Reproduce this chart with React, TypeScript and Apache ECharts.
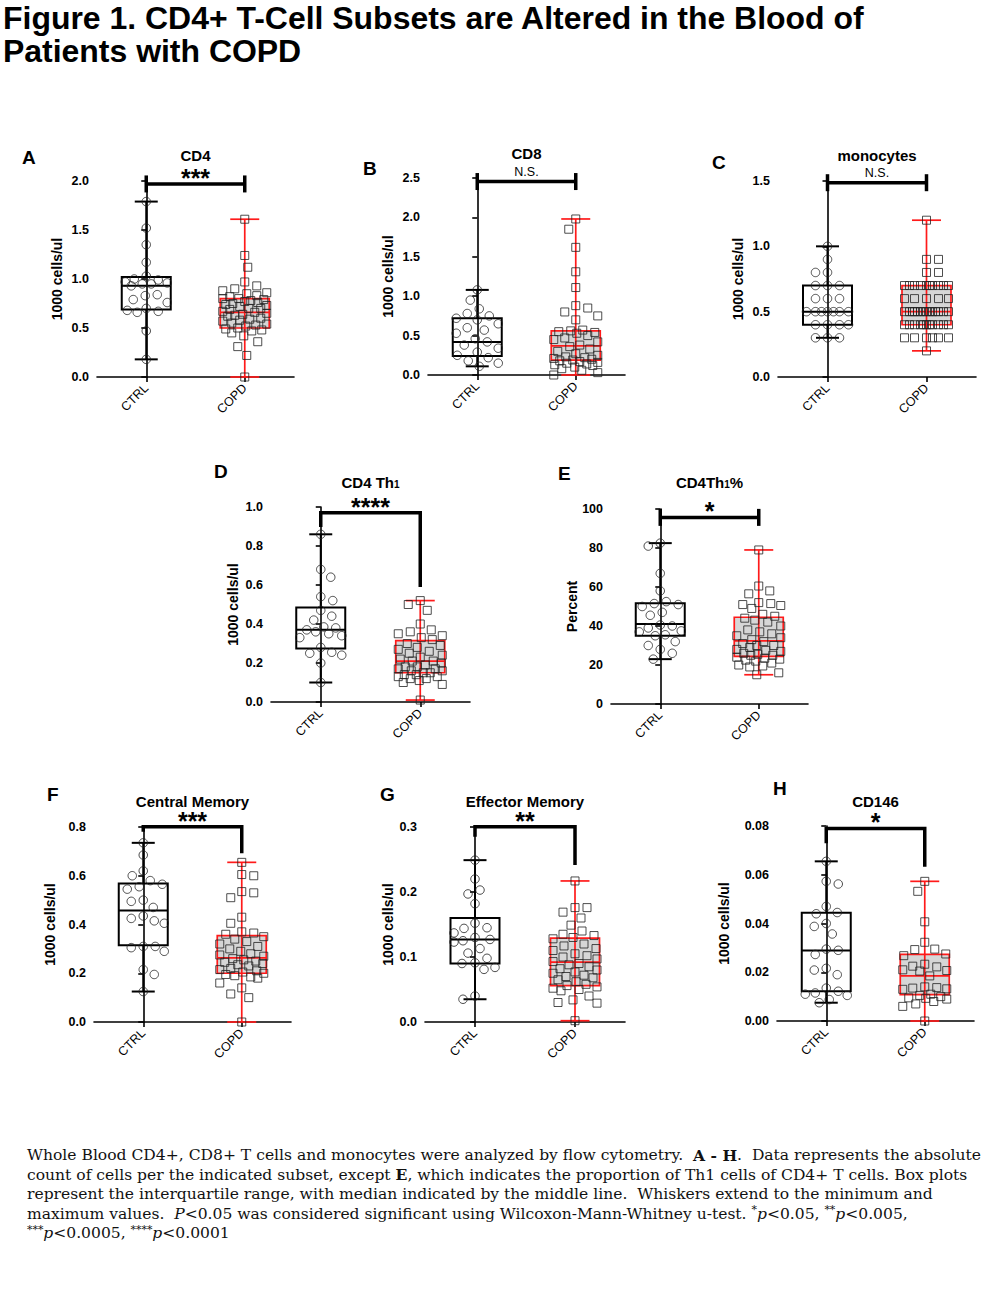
import React, { useEffect, useRef } from "react";
import * as echarts from "echarts";

// ---------------- DATA ----------------
const categories = ["CTRL", "COPD"];

// A — CD4
const cd4Ctrl = [1.79, 1.52, 1.35, 1.17, 1.03, 1.0, 0.99, 0.97, 0.96, 0.95, 0.95, 0.93, 0.84, 0.83, 0.79, 0.76, 0.7, 0.68, 0.67, 0.66, 0.47, 0.18];
const cd4Copd = [1.61, 1.24, 1.12, 0.97, 0.93, 0.9, 0.88, 0.86, 0.85, 0.83, 0.82, 0.8, 0.8, 0.79, 0.78, 0.77, 0.76, 0.75, 0.74, 0.73, 0.72, 0.7, 0.7, 0.69, 0.67, 0.66, 0.65, 0.64, 0.63, 0.62, 0.6, 0.59, 0.58, 0.57, 0.55, 0.54, 0.53, 0.52, 0.5, 0.49, 0.48, 0.47, 0.45, 0.42, 0.36, 0.31, 0.22, 0.0];
const cd4CtrlBox = [0.18, 0.69, 0.93, 1.02, 1.79]; // min, q1, median, q3, max
const cd4CopdBox = [0.0, 0.5, 0.66, 0.8, 1.61];

// B — CD8
const cd8Ctrl = [1.08, 0.95, 0.84, 0.78, 0.75, 0.72, 0.7, 0.65, 0.6, 0.57, 0.53, 0.46, 0.42, 0.38, 0.34, 0.29, 0.25, 0.22, 0.18, 0.15, 0.11];
const cd8Copd = [1.98, 1.85, 1.62, 1.31, 1.11, 0.88, 0.85, 0.8, 0.75, 0.7, 0.57, 0.56, 0.55, 0.54, 0.53, 0.5, 0.47, 0.45, 0.42, 0.38, 0.36, 0.33, 0.3, 0.27, 0.25, 0.23, 0.22, 0.21, 0.2, 0.19, 0.18, 0.17, 0.16, 0.15, 0.14, 0.13, 0.12, 0.1, 0.08, 0.06, 0.03, 0.0];
const cd8CtrlBox = [0.11, 0.24, 0.42, 0.72, 1.08];
const cd8CopdBox = [0.0, 0.19, 0.37, 0.56, 1.98];

// C — monocytes
const monoCtrl = [1.0, 0.9, 0.8, 0.8, 0.7, 0.7, 0.7, 0.6, 0.6, 0.6, 0.5, 0.5, 0.5, 0.5, 0.5, 0.5, 0.5, 0.4, 0.4, 0.4, 0.4, 0.3, 0.3, 0.3];
const monoCopd = [1.2, 0.9, 0.9, 0.8, 0.8, 0.7, 0.7, 0.7, 0.7, 0.7, 0.7, 0.7, 0.7, 0.7, 0.7, 0.6, 0.6, 0.6, 0.6, 0.6, 0.5, 0.5, 0.5, 0.5, 0.5, 0.5, 0.5, 0.5, 0.5, 0.5, 0.5, 0.5, 0.5, 0.5, 0.4, 0.4, 0.4, 0.4, 0.4, 0.4, 0.4, 0.4, 0.4, 0.4, 0.4, 0.3, 0.3, 0.3, 0.3, 0.3, 0.3, 0.2];
const monoCtrlBox = [0.3, 0.4, 0.5, 0.7, 1.0];
const monoCopdBox = [0.2, 0.4, 0.5, 0.7, 1.2];

// D — CD4 Th1
const th1Ctrl = [0.86, 0.68, 0.64, 0.54, 0.52, 0.47, 0.44, 0.42, 0.385, 0.38, 0.37, 0.36, 0.35, 0.34, 0.33, 0.28, 0.255, 0.25, 0.24, 0.2, 0.1];
const th1Copd = [0.52, 0.5, 0.47, 0.4, 0.37, 0.36, 0.35, 0.34, 0.33, 0.32, 0.3, 0.29, 0.28, 0.27, 0.26, 0.25, 0.24, 0.23, 0.22, 0.21, 0.21, 0.2, 0.19, 0.18, 0.18, 0.17, 0.17, 0.16, 0.16, 0.15, 0.15, 0.14, 0.14, 0.13, 0.13, 0.12, 0.12, 0.11, 0.1, 0.09, 0.01];
const th1CtrlBox = [0.1, 0.275, 0.37, 0.485, 0.86];
const th1CopdBox = [0.01, 0.15, 0.21, 0.315, 0.52];

// E — CD4Th1 %
const th1PctCtrl = [82.5, 81, 67, 58, 52.5, 51.5, 51, 50, 47, 45.5, 40.5, 40, 39, 37.5, 37, 35.5, 35, 32, 30, 28, 26, 23];
const th1PctCopd = [79, 60.5, 58, 56.5, 52, 51.5, 51, 50.5, 49, 46, 45, 44, 43, 42, 40, 38, 37, 36, 35, 34, 33, 32, 31, 30, 30, 29, 28, 27.5, 27, 26, 25.5, 25, 25, 24, 23.5, 23, 22.5, 22, 21, 20, 19.5, 19, 16, 15];
const th1PctCtrlBox = [23, 35, 41, 51.7, 82.5];
const th1PctCopdBox = [15, 24.4, 32.4, 44.5, 79];

// F — Central Memory
const cmCtrl = [0.735, 0.685, 0.62, 0.6, 0.58, 0.565, 0.555, 0.545, 0.5, 0.495, 0.47, 0.435, 0.425, 0.415, 0.405, 0.31, 0.31, 0.305, 0.29, 0.215, 0.195, 0.125];
const cmCopd = [0.655, 0.605, 0.6, 0.535, 0.53, 0.51, 0.43, 0.405, 0.37, 0.365, 0.36, 0.35, 0.34, 0.33, 0.32, 0.31, 0.3, 0.29, 0.28, 0.275, 0.27, 0.26, 0.255, 0.25, 0.245, 0.24, 0.235, 0.23, 0.22, 0.215, 0.21, 0.205, 0.2, 0.195, 0.19, 0.185, 0.18, 0.16, 0.14, 0.115, 0.1, 0.0];
const cmCtrlBox = [0.125, 0.315, 0.457, 0.568, 0.735];
const cmCopdBox = [0.0, 0.2, 0.263, 0.354, 0.655];

// G — Effector Memory
const emCtrl = [0.249, 0.22, 0.203, 0.197, 0.182, 0.152, 0.145, 0.144, 0.137, 0.13, 0.127, 0.125, 0.123, 0.113, 0.106, 0.098, 0.091, 0.09, 0.084, 0.081, 0.04, 0.035];
const emCopd = [0.217, 0.176, 0.176, 0.169, 0.16, 0.149, 0.14, 0.135, 0.133, 0.13, 0.128, 0.12, 0.117, 0.113, 0.11, 0.105, 0.102, 0.1, 0.097, 0.093, 0.09, 0.088, 0.085, 0.082, 0.08, 0.077, 0.075, 0.072, 0.07, 0.068, 0.065, 0.062, 0.058, 0.056, 0.054, 0.052, 0.05, 0.048, 0.04, 0.034, 0.03, 0.029, 0.002];
const emCtrlBox = [0.035, 0.09, 0.127, 0.16, 0.249];
const emCopdBox = [0.002, 0.056, 0.092, 0.129, 0.217];

// H — CD146
const cd146Ctrl = [0.0655, 0.0573, 0.0562, 0.047, 0.0445, 0.044, 0.04, 0.0388, 0.0357, 0.0295, 0.029, 0.0273, 0.0216, 0.0209, 0.019, 0.0135, 0.0122, 0.0115, 0.011, 0.0105, 0.0088, 0.0075];
const cd146Copd = [0.0573, 0.0532, 0.0407, 0.0323, 0.0295, 0.0293, 0.0275, 0.0268, 0.0233, 0.0225, 0.0222, 0.021, 0.0207, 0.0205, 0.0185, 0.014, 0.0137, 0.0135, 0.0132, 0.013, 0.011, 0.0105, 0.01, 0.0095, 0.0093, 0.009, 0.008, 0.007, 0.006, 0.0];
const cd146CtrlBox = [0.0075, 0.0122, 0.0289, 0.0444, 0.0655];
const cd146CopdBox = [0.0, 0.0108, 0.0185, 0.0273, 0.0573];

// significance brackets: [bar level, left leg end, right leg end] (null = T-capped bar)
const bracketA = [1.97, null, null];
const bracketB = [2.455, null, null];
const bracketC = [1.487, null, null];
const bracketD = [0.971, 0.897, 0.59];
const bracketE = [95.7, null, null];
const bracketF = [0.801, 0.781, 0.692];
const bracketG = [0.3005, 0.285, 0.2415];
const bracketH = [0.079, 0.0729, 0.0633];

const yMaxes = [2.0, 2.5, 1.5, 1.0, 100, 0.8, 0.3, 0.08];
const ySteps = [0.5, 0.5, 0.5, 0.2, 20, 0.2, 0.1, 0.02];
const yDecimals = [1, 1, 1, 1, 0, 1, 1, 2];
const letters = ["A", "B", "C", "D", "E", "F", "G", "H"];
const titles = ["CD4", "CD8", "monocytes", "CD4 Th{sub|1}", "CD4Th{sub|1}%", "Central Memory", "Effector Memory", "CD146"];
const yNames = ["1000 cells/ul", "1000 cells/ul", "1000 cells/ul", "1000 cells/ul", "Percent", "1000 cells/ul", "1000 cells/ul", "1000 cells/ul"];
const sigLabels = ["***", "N.S.", "N.S.", "****", "*", "***", "**", "*"];

const figureTitle = ["Figure 1. CD4+ T-Cell Subsets are Altered in the Blood of", "Patients with COPD"];
const captionLines = [
  "Whole Blood CD4+, CD8+ T cells and monocytes were analyzed by flow cytometry.  {b|A - H}.  Data represents the absolute",
  "count of cells per the indicated subset, except {b|E}, which indicates the proportion of Th1 cells of CD4+ T cells. Box plots",
  "represent the interquartile range, with median indicated by the middle line.  Whiskers extend to the minimum and",
  "maximum values.  {i|P}<0.05 was considered significant using Wilcoxon-Mann-Whitney u-test. {s|*}{i|p}<0.05, {s|**}{i|p}<0.005,",
  "{s|***}{i|p}<0.0005, {s|****}{i|p}<0.0001",
];

const ctrlSets = [cd4Ctrl, cd8Ctrl, monoCtrl, th1Ctrl, th1PctCtrl, cmCtrl, emCtrl, cd146Ctrl];
const copdSets = [cd4Copd, cd8Copd, monoCopd, th1Copd, th1PctCopd, cmCopd, emCopd, cd146Copd];
const ctrlBoxes = [cd4CtrlBox, cd8CtrlBox, monoCtrlBox, th1CtrlBox, th1PctCtrlBox, cmCtrlBox, emCtrlBox, cd146CtrlBox];
const copdBoxes = [cd4CopdBox, cd8CopdBox, monoCopdBox, th1CopdBox, th1PctCopdBox, cmCopdBox, emCopdBox, cd146CopdBox];
const brackets = [bracketA, bracketB, bracketC, bracketD, bracketE, bracketF, bracketG, bracketH];

// ---------------- LAYOUT ----------------
const layouts = [
  { left: 97, top: 181, width: 197, height: 196, lx: 22, ly: 157, ty: 155, nx: 57 },
  { left: 428, top: 178, width: 197, height: 197, lx: 363, ly: 168, ty: 153, nx: 388 },
  { left: 778, top: 181, width: 198, height: 196, lx: 712, ly: 162, ty: 155, nx: 738 },
  { left: 271, top: 507, width: 199, height: 195, lx: 214, ly: 471, ty: 482, nx: 233 },
  { left: 611, top: 509, width: 197, height: 195, lx: 558, ly: 473, ty: 482, nx: 572 },
  { left: 94, top: 827, width: 197, height: 195, lx: 47, ly: 794, ty: 801, nx: 50 },
  { left: 425, top: 827, width: 200, height: 195, lx: 380, ly: 794, ty: 801, nx: 388 },
  { left: 777, top: 826, width: 197, height: 195, lx: 773, ly: 788, ty: 801, nx: 724 },
];

const SANS = '"Liberation Sans", Arial, Helvetica, sans-serif';
const NARROW = '"Liberation Sans Narrow", "Arial Narrow", "Liberation Sans", Arial, sans-serif';
const SERIF = '"DejaVu Serif", "Liberation Serif", serif';
const RED = "#ff1a1a";

function measure(text: string, font: string): number {
  const c = document.createElement("canvas");
  const ctx = c.getContext("2d");
  if (!ctx) return 0;
  ctx.font = font;
  return ctx.measureText(text).width;
}

function swarm(values: number[], pxPerUnit: number, diam: number, maxHalf: number): number[] {
  const order = values.map((_, i) => i).sort((a, b) => values[b] - values[a]);
  const placed: [number, number][] = [];
  const res = new Array(values.length).fill(0);
  const candA: number[] = [0];
  const candB: number[] = [0];
  for (let k = 1; k <= maxHalf; k++) {
    candA.push(k, -k);
    candB.push(-k, k);
  }
  order.forEach((i, n) => {
    const y = values[i] * pxPerUnit;
    const cands = n % 2 === 0 ? candA : candB;
    let chosen = 0;
    let bestD = -1;
    for (const c of cands) {
      let minD = Infinity;
      for (const [px, py] of placed) {
        const d = Math.hypot(px - c, py - y);
        if (d < minD) minD = d;
      }
      if (minD >= diam) {
        chosen = c;
        break;
      }
      if (minD > bestD + 0.01) {
        bestD = minD;
        chosen = c;
      }
    }
    placed.push([chosen, y]);
    res[i] = chosen;
  });
  return res;
}

function boxRenderer(half: number, capHalf: number, stroke: string, fill: string, lw: number, through: boolean) {
  return (_params: any, api: any) => {
    const x = api.value(0);
    const pMin = api.coord([x, api.value(1)]);
    const pQ1 = api.coord([x, api.value(2)]);
    const pMed = api.coord([x, api.value(3)]);
    const pQ3 = api.coord([x, api.value(4)]);
    const pMax = api.coord([x, api.value(5)]);
    const cx = pMin[0];
    const ls = { stroke, lineWidth: lw, fill: null };
    const children: any[] = [
      { type: "rect", shape: { x: cx - half, y: pQ3[1], width: 2 * half, height: pQ1[1] - pQ3[1] }, style: { fill, stroke, lineWidth: lw } },
      { type: "line", shape: { x1: cx - half, y1: pMed[1], x2: cx + half, y2: pMed[1] }, style: ls },
      { type: "line", shape: { x1: cx - capHalf, y1: pMax[1], x2: cx + capHalf, y2: pMax[1] }, style: ls },
      { type: "line", shape: { x1: cx - capHalf, y1: pMin[1], x2: cx + capHalf, y2: pMin[1] }, style: ls },
    ];
    if (through) {
      children.push({ type: "line", shape: { x1: cx, y1: pMax[1], x2: cx, y2: pMin[1] }, style: ls });
    } else {
      children.push({ type: "line", shape: { x1: cx, y1: pQ3[1], x2: cx, y2: pMax[1] }, style: ls });
      children.push({ type: "line", shape: { x1: cx, y1: pQ1[1], x2: cx, y2: pMin[1] }, style: ls });
    }
    return { type: "group", children };
  };
}

function bracketRenderer(b: (number | null)[], label: string) {
  return (_params: any, api: any) => {
    const pL = api.coord([0, b[0]]);
    const pR = api.coord([1, b[0]]);
    const ls = { stroke: "#000", lineWidth: 3.5, fill: null, lineJoin: "miter" };
    const children: any[] = [];
    if (b[1] == null) {
      children.push({ type: "line", shape: { x1: pL[0], y1: pL[1], x2: pR[0], y2: pR[1] }, style: ls });
      children.push({ type: "line", shape: { x1: pL[0], y1: pL[1] - 8.5, x2: pL[0], y2: pL[1] + 8.5 }, style: ls });
      children.push({ type: "line", shape: { x1: pR[0], y1: pR[1] - 8.5, x2: pR[0], y2: pR[1] + 8.5 }, style: ls });
    } else {
      const lEnd = api.coord([0, b[1]]);
      const rEnd = api.coord([1, b[2]]);
      children.push({
        type: "polyline",
        shape: { points: [[pL[0], lEnd[1]], [pL[0], pL[1]], [pR[0], pR[1]], [pR[0], rEnd[1]]] },
        style: ls,
      });
    }
    const isNS = label === "N.S.";
    children.push({
      type: "text",
      style: {
        text: label,
        x: (pL[0] + pR[0]) / 2,
        y: pL[1] - (isNS ? 10 : 6),
        textAlign: "center",
        textVerticalAlign: "middle",
        fill: "#000",
        fontFamily: SANS,
        fontSize: isNS ? 12.5 : 25,
        fontWeight: isNS ? "normal" : "bold",
      },
    });
    return { type: "group", children };
  };
}

function buildOption() {
  const grid: any[] = [];
  const xAxis: any[] = [];
  const yAxis: any[] = [];
  const series: any[] = [];
  const graphic: any[] = [];
  const axisLine = { show: true, lineStyle: { color: "#000", width: 1.6 } };
  const axisTick = { show: true, length: 5, lineStyle: { color: "#000", width: 1.6 } };

  layouts.forEach((L, i) => {
    grid.push({ left: L.left, top: L.top, width: L.width, height: L.height, containLabel: false, outerBoundsMode: "none" });
    xAxis.push({
      type: "category",
      gridIndex: i,
      data: categories,
      boundaryGap: true,
      axisLine,
      axisTick: { ...axisTick, alignWithLabel: true },
      axisLabel: { rotate: 45, margin: 9, color: "#000", fontSize: 12.5, fontFamily: SANS, interval: 0 },
      splitLine: { show: false },
    });
    xAxis.push({ type: "value", gridIndex: i, min: -0.5, max: 1.5, show: false });
    const dec = yDecimals[i];
    yAxis.push({
      type: "value",
      gridIndex: i,
      min: 0,
      max: yMaxes[i],
      interval: ySteps[i],
      axisLine,
      axisTick,
      axisLabel: { margin: 8, color: "#000", fontSize: 12.5, fontWeight: "bold", fontFamily: SANS, formatter: (v: number) => v.toFixed(dec) },
      splitLine: { show: false },
    });
    const vx = 2 * i + 1;
    const pxPerUnit = L.height / yMaxes[i];
    const unitsPerPx = 2 / L.width;

    series.push({
      type: "custom",
      xAxisIndex: vx,
      yAxisIndex: i,
      silent: true,
      z: 1,
      renderItem: boxRenderer(24.5, 11.5, "#000", "rgba(255,255,255,0)", 2, false),
      data: [[0, ...ctrlBoxes[i]]],
    });
    series.push({
      type: "custom",
      xAxisIndex: vx,
      yAxisIndex: i,
      silent: true,
      z: 1,
      renderItem: boxRenderer(24.5, 14.5, RED, "#d6d6d6", 1.7, true),
      data: [[1, ...copdBoxes[i]]],
    });

    const offC = swarm(ctrlSets[i], pxPerUnit, 12, 21);
    const offP = swarm(copdSets[i], pxPerUnit, 12, 22);
    series.push({
      type: "scatter",
      xAxisIndex: vx,
      yAxisIndex: i,
      silent: true,
      clip: false,
      z: 3,
      symbol: "circle",
      symbolSize: 8.5,
      itemStyle: { color: "rgba(255,255,255,0)", borderColor: "#222", borderWidth: 1 },
      data: ctrlSets[i].map((v, k) => [0 + offC[k] * unitsPerPx, v]),
    });
    series.push({
      type: "scatter",
      xAxisIndex: vx,
      yAxisIndex: i,
      silent: true,
      clip: false,
      z: 3,
      symbol: "rect",
      symbolSize: 8,
      itemStyle: { color: "rgba(255,255,255,0)", borderColor: "#222", borderWidth: 1 },
      data: copdSets[i].map((v, k) => [1 + offP[k] * unitsPerPx, v]),
    });
    series.push({
      type: "custom",
      xAxisIndex: vx,
      yAxisIndex: i,
      silent: true,
      z: 4,
      renderItem: bracketRenderer(brackets[i], sigLabels[i]),
      data: [[0, brackets[i][0]]],
    });

    // panel letter
    graphic.push({
      type: "text",
      x: L.lx,
      y: L.ly,
      style: { text: letters[i], fontFamily: SANS, fontWeight: "bold", fontSize: 19, fill: "#000", textAlign: "left", textVerticalAlign: "middle" },
    });
    // panel title
    graphic.push({
      type: "text",
      x: L.left + L.width / 2,
      y: L.ty,
      style: {
        text: titles[i],
        fontFamily: SANS,
        fontWeight: "bold",
        fontSize: 15,
        fill: "#000",
        textAlign: "center",
        textVerticalAlign: "middle",
        rich: {
          sub: { fontFamily: SANS, fontWeight: "bold", fontSize: 10, lineHeight: 10, verticalAlign: "bottom", padding: [4, 0, 0, 0] },
        },
      },
    });
    // y axis name
    graphic.push({
      type: "text",
      x: L.nx,
      y: L.top + L.height / 2,
      rotation: Math.PI / 2,
      style: { text: yNames[i], fontFamily: SANS, fontWeight: "bold", fontSize: 14, fill: "#000", textAlign: "center", textVerticalAlign: "middle" },
    });
  });

  // Figure title
  const titleFont = `bold 31px ${NARROW}`;
  const w1 = measure(figureTitle[0], titleFont) || 862;
  const titleScale = 862 / w1;
  figureTitle.forEach((t, k) => {
    graphic.push({
      type: "text",
      x: 3,
      y: k === 0 ? 19 : 52,
      scaleX: titleScale,
      style: { text: t, fontFamily: NARROW, fontWeight: "bold", fontSize: 31, fill: "#000", textAlign: "left", textVerticalAlign: "middle" },
    });
  });

  // Caption
  const plain0 = captionLines[0].replace(/\{[a-z]+\|([^}]*)\}/g, "$1").replace(/ {2,}/g, " ");
  const mw = measure(plain0, `14px ${SERIF}`) || 953;
  const capSize = (14 * 941) / mw;
  const capYs = [1155, 1174.5, 1194, 1213.5, 1233];
  captionLines.forEach((t, k) => {
    graphic.push({
      type: "text",
      x: 27,
      y: capYs[k],
      style: {
        text: t,
        fontFamily: SERIF,
        fontSize: capSize,
        fill: "#111",
        textAlign: "left",
        textVerticalAlign: "middle",
        rich: {
          b: { fontFamily: SERIF, fontSize: capSize, fontWeight: "bold", fill: "#111" },
          i: { fontFamily: SERIF, fontSize: capSize, fontStyle: "italic", fill: "#111" },
          s: { fontFamily: SERIF, fontSize: capSize * 0.7, fill: "#111", verticalAlign: "top", lineHeight: capSize * 1.2 },
        },
      },
    });
  });

  return {
    animation: false,
    backgroundColor: "#ffffff",
    grid,
    xAxis,
    yAxis,
    series,
    graphic: { elements: graphic },
  };
}

export default function App() {
  const ref = useRef<HTMLDivElement>(null);
  useEffect(() => {
    document.body.style.margin = "0";
    if (!ref.current) return;
    const chart = echarts.init(ref.current, null, { renderer: "svg" });
    chart.setOption(buildOption() as any);
    return () => chart.dispose();
  }, []);
  return <div ref={ref} style={{ width: 1000, height: 1294, background: "#fff" }} />;
}
